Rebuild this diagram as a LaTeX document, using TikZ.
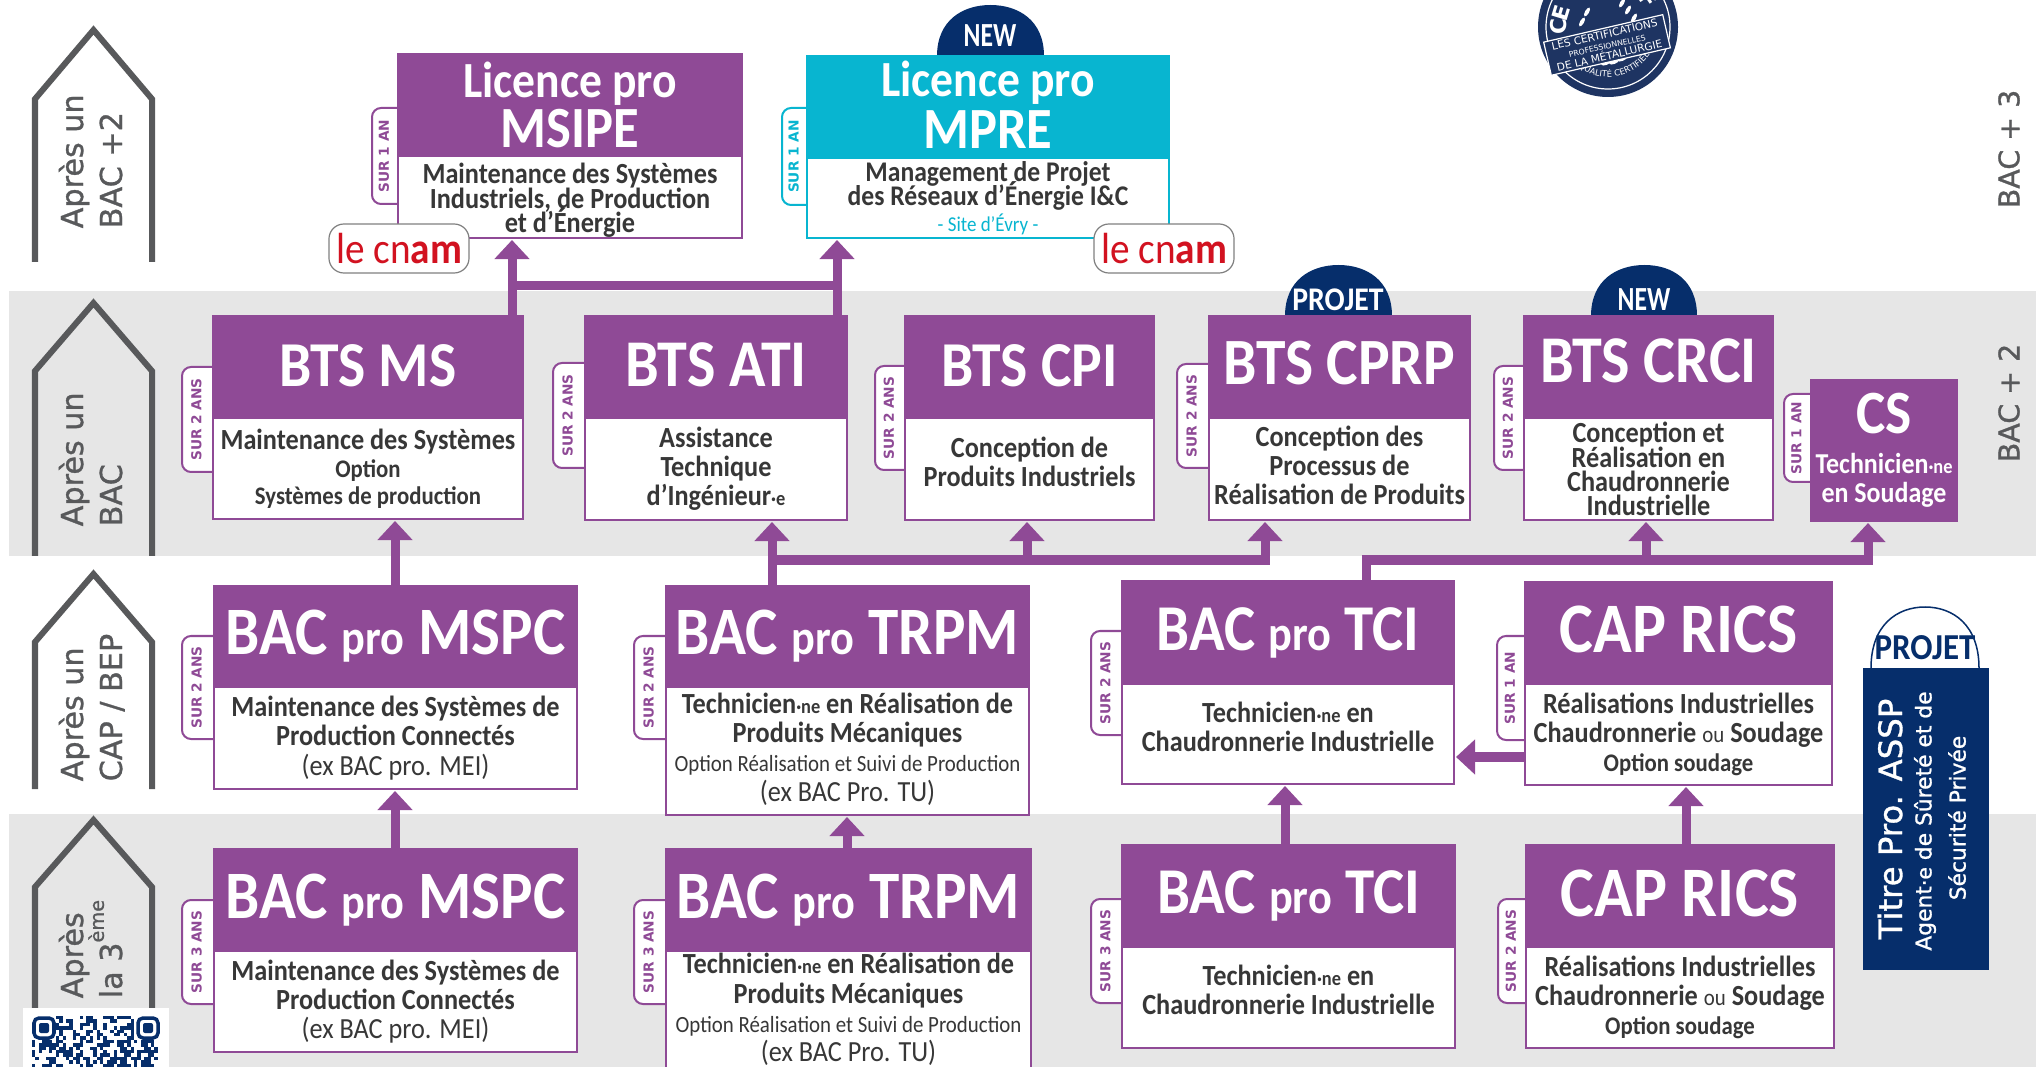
\documentclass[tikz,border=0pt]{standalone}
\usepackage{fontspec}
\setmainfont{Carlito}[FakeStretch=0.9]
\newfontfamily\etroit{Carlito}[FakeStretch=0.76]
\newfontfamily\dejavu{DejaVu Sans}
\newfontfamily\dejavum{DejaVu Sans}[FakeBold=1]
\usetikzlibrary{arrows.meta,decorations.text}
\definecolor{violet}{RGB}{143,74,150}
\definecolor{turquoise}{RGB}{8,181,208}
\definecolor{marine}{RGB}{6,46,107}
\definecolor{sceau}{RGB}{30,52,98}
\definecolor{bande}{RGB}{230,230,230}
\definecolor{ardoise}{RGB}{88,89,91}
\definecolor{encre}{RGB}{55,55,55}
\definecolor{rouge}{RGB}{210,18,32}
\newcommand{\taille}[1]{\fontsize{#1}{#1}\selectfont}
\newcommand{\genre}[1]{{\fontsize{5.8}{6}\selectfont ·#1}}
\newcommand{\promini}{{\taille{14}pro}}
\newcommand{\monte}{\\[-4pt]\mbox{}}
\newcommand{\montep}{\\[-6pt]\mbox{}}
\tikzset{
    tete/.style={fill=#1,draw=#1,line width=0.02cm,inner sep=0pt,text=white,font=\bfseries\taille{18.2},align=center},
    corps/.style={fill=white,draw=#1,line width=0.02cm,inner sep=0pt,text=encre,font=\bfseries\fontsize{8.3}{8.3}\selectfont,align=center},
    flux/.style={draw=violet,line width=0.09cm,-{Triangle[width=0.34cm,length=0.19cm]},shorten >=0.01cm},
    tronc/.style={draw=violet,line width=0.09cm,line cap=rect},
    maison/.style={draw=ardoise,line width=0.06cm,miter limit=10},
    palier/.style={text=ardoise,rotate=90,anchor=base west,inner sep=0pt,font=\dejavum\fontsize{8.6}{9}\selectfont},
    bacplus/.style={text=ardoise,rotate=90,inner sep=0pt,font=\dejavum\fontsize{8.1}{9}\selectfont},
    duree/.style={rotate=90,inner sep=0pt,font=\dejavu\bfseries\fontsize{3.9}{4}\selectfont},
    badge/.style={inner sep=0pt,font=\bfseries\fontsize{9.4}{10}\selectfont},
    cnam/.style={draw=gray,fill=white,line width=0.012cm,rounded corners=0.15cm,minimum width=1.4cm,minimum height=0.49cm,inner sep=0pt,text=rouge,font=\fontsize{12.4}{13}\selectfont}
}
\begin{document}
\begin{tikzpicture}[x=0.01cm,y=-0.01cm]
    % une unite = un pixel de l'image
    \clip (0,0) rectangle (2036,1067);
    \def\mymaison#1#2#3{\draw[maison] (35,#3)--(35,#2)--(93.5,#1)--(152,#2)--(152,#3);}
    \def\myformation#1#2#3#4#5#6#7#8#9{%
        \node[corps=#2] (#1c) at ({(#3+#4)/2},{(#6+#7)/2}) [minimum width={(#4-#3)*0.01cm},minimum height={(#7-#6)*0.01cm}] {#9};
        \node[tete=#2] (#1) at ({(#3+#4)/2},{(#5+#6)/2}) [minimum width={(#4-#3)*0.01cm},minimum height={(#6-#5)*0.01cm}] {#8};
    }
    \def\myduree#1#2#3#4#5#6{%
        \draw[draw=#2,fill=white,line width=0.02cm,rounded corners=0.09cm] (#4,#5)--(#3,#5)--(#3,#6)--(#4,#6);
        \node[duree,text=#2] at ({#3+(#4-#3)*0.46},{(#5+#6)/2}) {SUR #1};
    }
    \def\mydome#1#2#3#4{%
        \fill[#4] (#1,#3) .. controls (#1,{#3-36}) and ({#1+26},{#3-51}) .. ({#1+53.5},{#3-51})
            .. controls ({#1+81},{#3-51}) and ({#1+#2},{#3-36}) .. ({#1+#2},#3) -- cycle;
    }
    % bandes grises
    \fill[bande] (9,291) rectangle (2036,556);
    \fill[bande] (9,814) rectangle (2036,1067);
    % maisons de gauche
    \mymaison{30}{99}{262}
    \mymaison{303}{371}{556}
    \mymaison{574}{642}{789}
    \mymaison{820}{887}{1010}
    \node[palier] (apres1) at (83,229) {Après un};
    \node[palier] (bac1) at (122,229) {BAC +2};
    \node[palier] (apres2) at (83,527) {Après un};
    \node[palier] (bac2) at (122,527) {BAC};
    \node[palier] (apres3) at (83,782) {Après un};
    \node[palier] (bac3) at (122,782) {CAP / BEP};
    \node[palier] (apres4) at (83,999) {Après};
    \node[palier] (bac4) at (122,999) {la 3\raisebox{1.1ex}{\fontsize{5.5}{6}\selectfont ème}};
    \node[bacplus] (bac3d) at (2009,149) {BAC + 3};
    \node[bacplus] (bac2d) at (2009,403) {BAC + 2};
    % domes au dessus des boites
    \mydome{937}{107}{56}{marine}
    \mydome{1285}{107}{316}{marine}
    \mydome{1591}{106}{316}{marine}
    \node[badge,font=\etroit\bfseries\fontsize{9.6}{10}\selectfont,text=white] (new1) at (990,36) {NEW};
    \node[badge,text=white] (projet1) at (1338,300) {PROJET};
    \node[badge,font=\etroit\bfseries\fontsize{9.6}{10}\selectfont,text=white] (new2) at (1644,300) {NEW};
    % onglets
    \myduree{1 AN}{violet}{372}{398}{108}{204}
    \myduree{1 AN}{turquoise}{782}{807}{108}{205}
    \myduree{2 ANS}{violet}{182}{213}{367}{472}
    \myduree{2 ANS}{violet}{553}{585}{363}{468}
    \myduree{2 ANS}{violet}{875}{905}{366}{470}
    \myduree{2 ANS}{violet}{1177}{1209}{364}{468}
    \myduree{2 ANS}{violet}{1494}{1524}{366}{470}
    \myduree{1 AN}{violet}{1784}{1811}{394}{482}
    \myduree{2 ANS}{violet}{182}{214}{636}{739}
    \myduree{2 ANS}{violet}{634}{666}{636}{739}
    \myduree{2 ANS}{violet}{1091}{1122}{631}{735}
    \myduree{1 AN}{violet}{1497}{1525}{636}{740}
    \myduree{3 ANS}{violet}{182}{214}{900}{1004}
    \myduree{3 ANS}{violet}{634}{666}{900}{1004}
    \myduree{3 ANS}{violet}{1091}{1122}{899}{1003}
    \myduree{2 ANS}{violet}{1498}{1526}{899}{1003}
    % Les formations
    \myformation{msipe}{violet}{398}{742}{54.5}{156}{238}{{\taille{14.4}Licence pro}\\[-4pt]{\taille{16.6}MSIPE}}{\mbox{}\\[-0.6pt]Maintenance des Systèmes\\[-1.35pt]Industriels, de Production\\[-1.35pt]et d’Énergie}
    \myformation{mpre}{turquoise}{807}{1169}{56}{158}{238}{\raisebox{1.1pt}{\taille{14.4}Licence pro}\\[-3.4pt]\raisebox{1.1pt}{\taille{16.6}MPRE}}{\taille{8.1}Management de Projet\\[-1.6pt]{\taille{8.1}des Réseaux d’Énergie I\&C}\\[-0.9pt]{\color{turquoise}\mdseries\taille{6}- Site d’Évry -}}
    \myformation{btsms}{violet}{213}{523}{316}{418}{519}{\raisebox{1.1pt}{BTS MS}}{Maintenance des Systèmes\\[-0.2pt]{\taille{7.2}Option}\\[-0.9pt]{\taille{7.2}Systèmes de production}}
    \myformation{btsati}{violet}{585}{847}{316}{418}{520}{\raisebox{1.1pt}{\taille{19}BTS ATI}}{Assistance\\Technique\\d’Ingénieur\genre{e}}
    \myformation{btscpi}{violet}{905}{1154}{316}{418}{520}{\raisebox{1.1pt}{BTS CPI}}{Conception de\\Produits Industriels\monte}
    \myformation{btscprp}{violet}{1209}{1470}{316}{418}{520}{\raisebox{2.1pt}{\taille{18.8}BTS CPRP}}{Conception des\\Processus de\\Réalisation de Produits\montep}
    \myformation{btscrci}{violet}{1524}{1773}{316}{418}{520}{\raisebox{3.7pt}{\taille{19}BTS CRCI}}{Conception et\\[-1.4pt]Réalisation en\\[-1.4pt]Chaudronnerie\\[-1.4pt]Industrielle}
    \node[tete=violet,minimum width=1.46cm,minimum height=1.41cm] (cs) at (1884,450.5) {{\taille{17.5}CS}\\[-6.8pt]{\fontsize{8.2}{8}\selectfont Technicien\genre{ne}}\\[-10pt]{\fontsize{8.2}{8}\selectfont en Soudage}};
    \myformation{mspca}{violet}{214}{577}{586}{687}{789}{\taille{19.3}BAC \promini{} MSPC}{Maintenance des Systèmes de\\Production Connectés\\{\mdseries (ex BAC pro. MEI)}}
    \myformation{trpma}{violet}{666}{1029}{586}{687}{815}{\raisebox{0.5pt}{\taille{19.3}BAC \promini{} TRPM}}{Technicien\genre{ne} en Réalisation de\\Produits Mécaniques\\{\mdseries\taille{6.6}Option Réalisation et Suivi de Production}\\{\mdseries (ex BAC Pro. TU)}\montep}
    \myformation{tcia}{violet}{1122}{1454}{581}{684}{784}{\taille{18.6}BAC \promini{} TCI}{Technicien\genre{ne} en\\Chaudronnerie Industrielle\monte}
    \myformation{ricsa}{violet}{1525}{1832}{582}{684}{785}{\raisebox{2.1pt}{\taille{20.2}CAP RICS}}{Réalisations Industrielles\\Chaudronnerie {\mdseries\taille{6.6}ou} Soudage\\{\taille{7.2}Option soudage}}
    \myformation{mspcb}{violet}{214}{577}{849}{951}{1052}{\taille{19.3}BAC \promini{} MSPC}{Maintenance des Systèmes de\\Production Connectés\\{\mdseries (ex BAC pro. MEI)}}
    \myformation{trpmb}{violet}{666}{1031}{849}{951}{1068}{\taille{19.3}BAC \promini{} TRPM}{Technicien\genre{ne} en Réalisation de\\Produits Mécaniques\\{\mdseries\taille{6.6}Option Réalisation et Suivi de Production}\\{\mdseries (ex BAC Pro. TU)}}
    \myformation{tcib}{violet}{1122}{1455}{845}{947}{1048}{\taille{18.6}BAC \promini{} TCI}{Technicien\genre{ne} en\\Chaudronnerie Industrielle\monte}
    \myformation{ricsb}{violet}{1526}{1834}{845}{947}{1048}{\raisebox{1.6pt}{\taille{20.2}CAP RICS}}{Réalisations Industrielles\\Chaudronnerie {\mdseries\taille{6.6}ou} Soudage\\{\taille{7.2}Option soudage}}
    % logos
    \node[cnam] (cnam1) at (399,248.5) {le cn{\bfseries am}};
    \node[cnam] (cnam2) at (1164,248.5) {le cn{\bfseries am}};
    % titre pro
    \mydome{1871}{108}{668}{white}
    \draw[marine,line width=0.015cm] (1871,668) .. controls (1871,625) and (1897,607) .. (1925,607) .. controls (1953,607) and (1979,625) .. (1979,668);
    \node[badge,font=\bfseries\fontsize{10.4}{11}\selectfont,text=marine] (projet2) at (1925,648) {PROJET};
    \node[fill=marine,minimum width=1.26cm,minimum height=3.02cm,inner sep=0pt] (assp) at (1926,819) {};
    \node[rotate=90,text=white,inner sep=0pt,font=\dejavum\fontsize{9.2}{10}\selectfont] (asspa) at (1890,819) {Titre Pro. ASSP};
    \node[rotate=90,text=white,inner sep=0pt,font=\dejavum\fontsize{6.2}{7}\selectfont] (asspb) at (1925,821) {Agent\genre{e} de Sûreté et de};
    \node[rotate=90,text=white,inner sep=0pt,font=\dejavum\fontsize{6.2}{7}\selectfont] (asspc) at (1957,818) {Sécurité Privée};
    % sceau des certifications
    \fill[sceau] (1608,27) circle[radius=70];
    \draw[white,line width=0.012cm] (1608,27) circle[radius=62];
    \foreach \c/\t in {C/180,E/163,F/34}
        \node[text=white,inner sep=0pt,rotate=\t-90,font=\dejavu\bfseries\fontsize{6.2}{7}\selectfont] at ([shift={(1608,27)}] -\t:49) {\c};
    \path[decorate,decoration={text along path,text align=center,text={|\dejavu\fontsize{2.4}{3}\selectfont\color{white}|QUALITÉ CERTIFIÉE}}] (1608,27) ++(125:50) arc[start angle=125,end angle=35,radius=50];
    \foreach \a/\b in {1582/22,1587/12,1628/10,1634/18,1622/3}
        \fill[white,rotate around={60:(\a,\b)}] (\a,\b) ellipse[x radius=5,y radius=2];
    \foreach \a/\b in {1598/60,1606/63,1614/62,1622/59}
        \fill[white,rotate around={20:(\a,\b)}] (\a,\b) ellipse[x radius=5,y radius=2];
    \node[rotate=13,fill=sceau,draw=white,line width=0.012cm,inner xsep=2pt,inner ysep=0.6pt,text=white,align=center,font=\dejavu\fontsize{3}{3.1}\selectfont] (banniere) at (1607,45) {LES CERTIFICATIONS\\{\fontsize{2.2}{2.6}\selectfont PROFESSIONNELLES}\\DE LA MÉTALLURGIE};
    % QR code
    \fill[white] (23,1008) rectangle (169,1067);
    \foreach \i in {0,...,36}{
        \foreach \j in {0,...,15}{
            \pgfmathtruncatemacro{\myval}{mod(mod(mod(\i*\i,31)*\i,7)*3+mod(\j*\j,13)*\j+\i*\j*5+\i+\j*3,7)}
            \pgfmathtruncatemacro{\myzone}{(\i<7 || \i>29) && \j<7 ? 1 : 0}
            \ifnum\myzone=0 \ifnum\myval<3
                \fill[marine] ({32+\i*3.4},{1016+\j*3.4}) rectangle +(3.4,3.4);
            \fi\fi
        }
    }
    \foreach \a in {32,136}{
        \draw[marine,line width=0.035cm,rounded corners=0.05cm] (\a+2,1018) rectangle (\a+22,1038);
        \fill[marine,rounded corners=0.02cm] (\a+7,1023) rectangle (\a+17,1033);
    }
    % liaisons
    \coordinate (xatimpre) at (837,286);
    \coordinate (xmsmsipe) at (512,286);
    \coordinate (xmspc) at (395,560);
    \coordinate (xtrpm) at (772,560);
    \coordinate (xcpi) at (1027,560);
    \coordinate (xcprp) at (1265,560);
    \coordinate (xtci) at (1366,560);
    \coordinate (xcrci) at (1646,560);
    \coordinate (xcs) at (1868,560);
    \coordinate (xtrpmb) at (847,830);
    \coordinate (xtcib) at (1285,800);
    \coordinate (xricsb) at (1686,800);
    \coordinate (yrics) at (1490,757);
    \draw[flux] (btsms.north -| xmsmsipe) -- (msipec.south -| xmsmsipe);
    \draw[flux] (btsati.north -| xatimpre) -- (mprec.south -| xatimpre);
    \draw[tronc] (xmsmsipe) -- (xatimpre);
    \draw[flux] (mspca.north -| xmspc) -- (btsmsc.south -| xmspc);
    \draw[flux] (trpma.north -| xtrpm) -- (btsatic.south -| xtrpm);
    \draw[tronc] (xtrpm) -- (xcprp);
    \draw[flux] (xcpi) -- (btscpic.south -| xcpi);
    \draw[flux] (xcprp) -- (btscprpc.south -| xcprp);
    \draw[tronc] (tcia.north -| xtci) -- (xtci) -- (xcs);
    \draw[flux] (xcrci) -- (btscrcic.south -| xcrci);
    \draw[flux] (xcs) -- (cs.south -| xcs);
    \draw[flux] (mspcb.north -| xmspc) -- (mspcac.south -| xmspc);
    \draw[flux] (trpmb.north -| xtrpmb) -- (trpmac.south -| xtrpmb);
    \draw[flux] (tcib.north -| xtcib) -- (tciac.south -| xtcib);
    \draw[flux] (ricsb.north -| xricsb) -- (ricsac.south -| xricsb);
    \draw[flux] (ricsac.west |- yrics) -- (tciac.east |- yrics);
\end{tikzpicture}
\end{document}
